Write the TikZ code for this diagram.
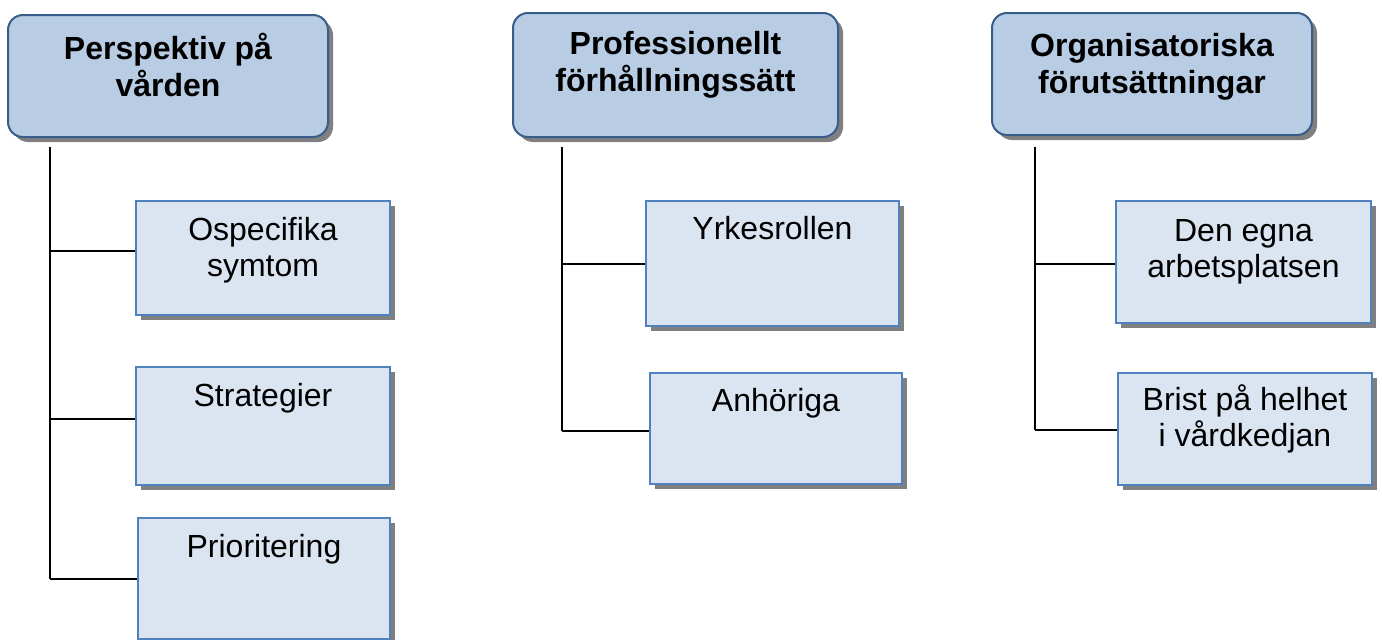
\documentclass[tikz,border=0pt]{standalone}
\usepackage{fontspec}
\setmainfont{Liberation Sans}
\usetikzlibrary{shadows}
\definecolor{hfill}{HTML}{B8CCE4}
\definecolor{hdraw}{HTML}{385D8A}
\definecolor{cfill}{HTML}{DBE5F1}
\definecolor{cdraw}{HTML}{4F81BD}
\definecolor{shadgray}{HTML}{808080}
\begin{document}
\begin{tikzpicture}[x=1pt,y=-1pt,
  mysh/.style={drop shadow={opacity=1,fill=shadgray,shadow xshift=5pt,shadow yshift=-5pt}},
  headbox/.style={rectangle,rounded corners=15pt,draw=hdraw,line width=2pt,fill=hfill,inner sep=0pt,mysh},
  childbox/.style={rectangle,draw=cdraw,line width=2pt,fill=cfill,inner sep=0pt,mysh},
  headtxt/.style={font=\fontsize{32}{37}\selectfont\bfseries,align=center,anchor=base,inner sep=0pt},
  childtxt/.style={font=\fontsize{32}{36}\selectfont,align=center,anchor=base,inner sep=0pt},
  conn/.style={line width=2pt,black}]
\useasboundingbox (0,0) rectangle (1382,640);
% headers
\node[headbox,minimum width=320pt,minimum height=122pt] (h1) at (168,76) {};
\node[headbox,minimum width=325pt,minimum height=124pt] (h2) at (675.5,75) {};
\node[headbox,minimum width=320pt,minimum height=122pt] (h3) at (1152,74) {};
% base anchor of a two-line node = baseline of its last line
\node[headtxt] (h1t) at ([yshift=-82pt]h1.north) {Perspektiv på\\vården};
\node[headtxt] (h2t) at ([yshift=-79pt]h2.north) {Professionellt\\förhållningssätt};
\node[headtxt] (h3t) at ([yshift=-81pt]h3.north) {Organisatoriska\\förutsättningar};
% children
\node[childbox,minimum width=254pt,minimum height=114pt] (c1a) at (263,258) {};
\node[childbox,minimum width=254pt,minimum height=118pt] (c1b) at (263,426) {};
\node[childbox,minimum width=252pt,minimum height=121pt] (c1c) at (264,578.5) {};
\node[childbox,minimum width=253pt,minimum height=125pt] (c2a) at (772.5,263.5) {};
\node[childbox,minimum width=252pt,minimum height=111pt] (c2b) at (776,428.5) {};
\node[childbox,minimum width=255pt,minimum height=122pt] (c3a) at (1243.5,262) {};
\node[childbox,minimum width=254pt,minimum height=112pt] (c3b) at (1245,429) {};
\node[childtxt] (c1at) at ([yshift=-76pt]c1a.north) {Ospecifika\\symtom};
\node[childtxt] (c1bt) at ([yshift=-40pt]c1b.north) {Strategier};
\node[childtxt] (c1ct) at ([yshift=-40pt]c1c.north) {Prioritering};
\node[childtxt] (c2at) at ([yshift=-39pt]c2a.north) {Yrkesrollen};
\node[childtxt] (c2bt) at ([yshift=-39pt]c2b.north) {Anhöriga};
\node[childtxt] (c3at) at ([yshift=-77pt]c3a.north) {Den egna\\arbetsplatsen};
\node[childtxt] (c3bt) at ([yshift=-74pt]c3b.north) {Brist på helhet\\i vårdkedjan};
% connectors
\coordinate (t1) at (50,147);
\coordinate (j1a) at (50,251);
\coordinate (j1b) at (50,419);
\coordinate (j1c) at (50,579);
\draw[conn] (t1) -- (j1c);
\draw[conn] (j1a) -- (j1a -| c1a.west);
\draw[conn] (j1b) -- (j1b -| c1b.west);
\draw[conn] (j1c) -- (j1c -| c1c.west);
\coordinate (t2) at (562,147);
\coordinate (j2a) at (562,264);
\coordinate (j2b) at (562,431);
\draw[conn] (t2) -- (j2b);
\draw[conn] (j2a) -- (j2a -| c2a.west);
\draw[conn] (j2b) -- (j2b -| c2b.west);
\coordinate (t3) at (1035,147);
\coordinate (j3a) at (1035,264);
\coordinate (j3b) at (1035,430);
\draw[conn] (t3) -- (j3b);
\draw[conn] (j3a) -- (j3a -| c3a.west);
\draw[conn] (j3b) -- (j3b -| c3b.west);
\end{tikzpicture}
\end{document}
